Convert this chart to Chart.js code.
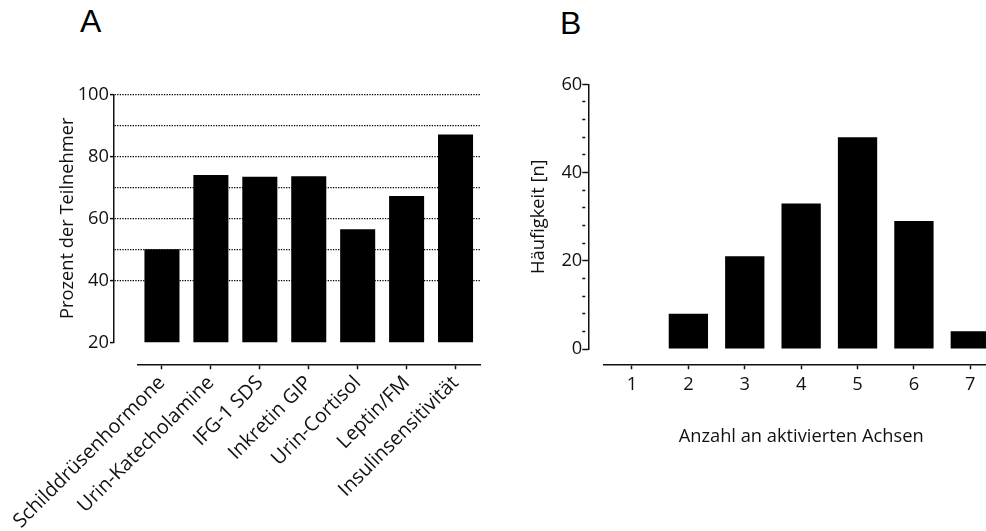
<!DOCTYPE html>
<html>
<head>
<meta charset="utf-8">
<title>Aktivierte Achsen</title>
<script src="https://cdn.jsdelivr.net/npm/chart.js@4.4.1/dist/chart.umd.min.js"></script>
<style>
  html, body { margin: 0; padding: 0; background: #fff; width: 986px; height: 531px; overflow: hidden; }
  canvas { position: absolute; top: 0; }
  #chartA { left: 0; }
  #chartB { left: 500px; }
  .tag { position: absolute; font-family: "Liberation Sans", Arial, sans-serif; font-size: 32px; line-height: 32px; color: #000; }
</style>
</head>
<body>
<div class="tag" style="left:80px; top:5px;">A</div>
<div class="tag" style="left:560px; top:7px;">B</div>
<canvas id="chartA" width="500" height="531"></canvas>
<canvas id="chartB" width="550" height="531"></canvas>
<script>
// Panel A: share of participants per axis
const categoriesA = ['Schilddrüsenhormone', 'Urin-Katecholamine', 'IFG-1 SDS', 'Inkretin GIP', 'Urin-Cortisol', 'Leptin/FM', 'Insulinsensitivität'];
const percentA = [50, 74, 73.4, 73.6, 56.5, 67.2, 87];
const yTickLabelsA = [20, 40, 60, 80, 100];
const gridValuesA = [40, 50, 60, 70, 80, 90, 100];

// Panel B: number of activated axes per participant
const categoriesB = ['1', '2', '3', '4', '5', '6', '7'];
const countsB = [0, 8, 21, 33, 48, 29, 4];
const yTickLabelsB = [0, 20, 40, 60];

const INK = '#111';
const NONE = 'rgba(0,0,0,0)';
const FONT_SIZE = 18.3;

Chart.defaults.font.family = "'Open Sans', sans-serif";
Chart.defaults.font.size = FONT_SIZE;
Chart.defaults.color = INK;

// Pulls the category axis away from the value axis (Prism-style detached axes):
// the x axis starts a little right of the y axis and sits a little below the plot.
const detachAxes = {
  id: 'detachAxes',
  afterLayout(chart, args, opts) {
    const x = chart.scales.x;
    x.left = chart.chartArea.left + opts.inset;
    x.top += opts.drop;
    x.bottom += opts.drop;
    x.configure();
  }
};

function fixedWidth(w) { return scale => { scale.width = w; }; }
// Fixed axis height; rotated labels may spill past the plot edges, so no side padding is reserved.
function fixedHeight(h) {
  return scale => { scale.height = h; scale.paddingLeft = 0; scale.paddingRight = 0; };
}

new Chart(document.getElementById('chartA'), {
  type: 'bar',
  data: {
    labels: categoriesA,
    datasets: [{
      data: percentA,
      backgroundColor: '#000',
      borderWidth: 0,
      barPercentage: 0.716,
      categoryPercentage: 1
    }]
  },
  plugins: [detachAxes],
  options: {
    responsive: false,
    animation: false,
    layout: { padding: { top: 94.3, left: 0, right: 20, bottom: 0 } },
    plugins: {
      legend: { display: false },
      tooltip: { enabled: false },
      detachAxes: { inset: 23.5, drop: 22 }
    },
    scales: {
      x: {
        offset: true,
        afterFit: fixedHeight(188.7),
        grid: { display: true, drawOnChartArea: false, offset: false, tickLength: 5, tickWidth: 1.5, tickColor: INK },
        border: { display: true, color: INK, width: 1.5 },
        ticks: { minRotation: 45, maxRotation: 45, autoSkip: false, padding: 2, color: INK, font: { size: 19.8 } }
      },
      y: {
        min: 20,
        max: 100,
        afterFit: fixedWidth(114),
        afterBuildTicks: scale => { scale.ticks = gridValuesA.concat([20, 30]).sort((a, b) => a - b).map(v => ({ value: v })); },
        grid: {
          color: c => gridValuesA.includes(c.tick.value) ? '#000' : NONE,
          lineWidth: 1.2,
          tickLength: 4,
          tickWidth: 1.5,
          tickBorderDash: [],
          tickColor: c => yTickLabelsA.includes(c.tick.value) ? INK : NONE
        },
        border: { display: true, color: INK, width: 1.5, dash: [1.3, 1.3] },
        ticks: {
          autoSkip: false,
          padding: 1,
          color: INK,
          callback: v => yTickLabelsA.includes(v) ? String(v) : ''
        },
        title: { display: true, text: 'Prozent der Teilnehmer', color: INK, font: { size: FONT_SIZE }, padding: { top: 57, bottom: 0 } }
      }
    }
  }
});

new Chart(document.getElementById('chartB'), {
  type: 'bar',
  data: {
    labels: categoriesB,
    datasets: [{
      data: countsB,
      backgroundColor: '#000',
      borderWidth: 0,
      barPercentage: 0.697,
      categoryPercentage: 1
    }]
  },
  plugins: [detachAxes],
  options: {
    responsive: false,
    animation: false,
    layout: { padding: { top: 84.3, left: 0, right: 51.5, bottom: 0 } },
    plugins: {
      legend: { display: false },
      tooltip: { enabled: false },
      detachAxes: { inset: 15.5, drop: 15.3 }
    },
    scales: {
      x: {
        offset: true,
        afterFit: fixedHeight(182),
        grid: { display: true, drawOnChartArea: false, offset: false, tickLength: 5, tickWidth: 1.5, tickColor: INK },
        border: { display: true, color: INK, width: 1.5 },
        ticks: { maxRotation: 0, autoSkip: false, padding: 5, color: INK },
        title: { display: true, text: 'Anzahl an aktivierten Achsen', color: INK, font: { size: FONT_SIZE }, padding: { top: 0, bottom: 98.3 } }
      },
      y: {
        min: 0,
        max: 60,
        afterFit: fixedWidth(88.3),
        ticks: {
          stepSize: 4,
          autoSkip: false,
          padding: 0,
          color: INK,
          callback: v => yTickLabelsB.includes(v) ? String(v) : ''
        },
        grid: {
          drawOnChartArea: false,
          tickLength: 6,
          tickWidth: 1.5,
          tickColor: INK,
          tickBorderDash: c => yTickLabelsB.includes(c.tick.value) ? [] : [3, 20]
        },
        border: { display: true, color: INK, width: 1.5 },
        title: { display: true, text: 'Häufigkeit [n]', color: INK, font: { size: FONT_SIZE }, padding: { top: 28, bottom: 0 } }
      }
    }
  }
});
</script>
</body>
</html>
